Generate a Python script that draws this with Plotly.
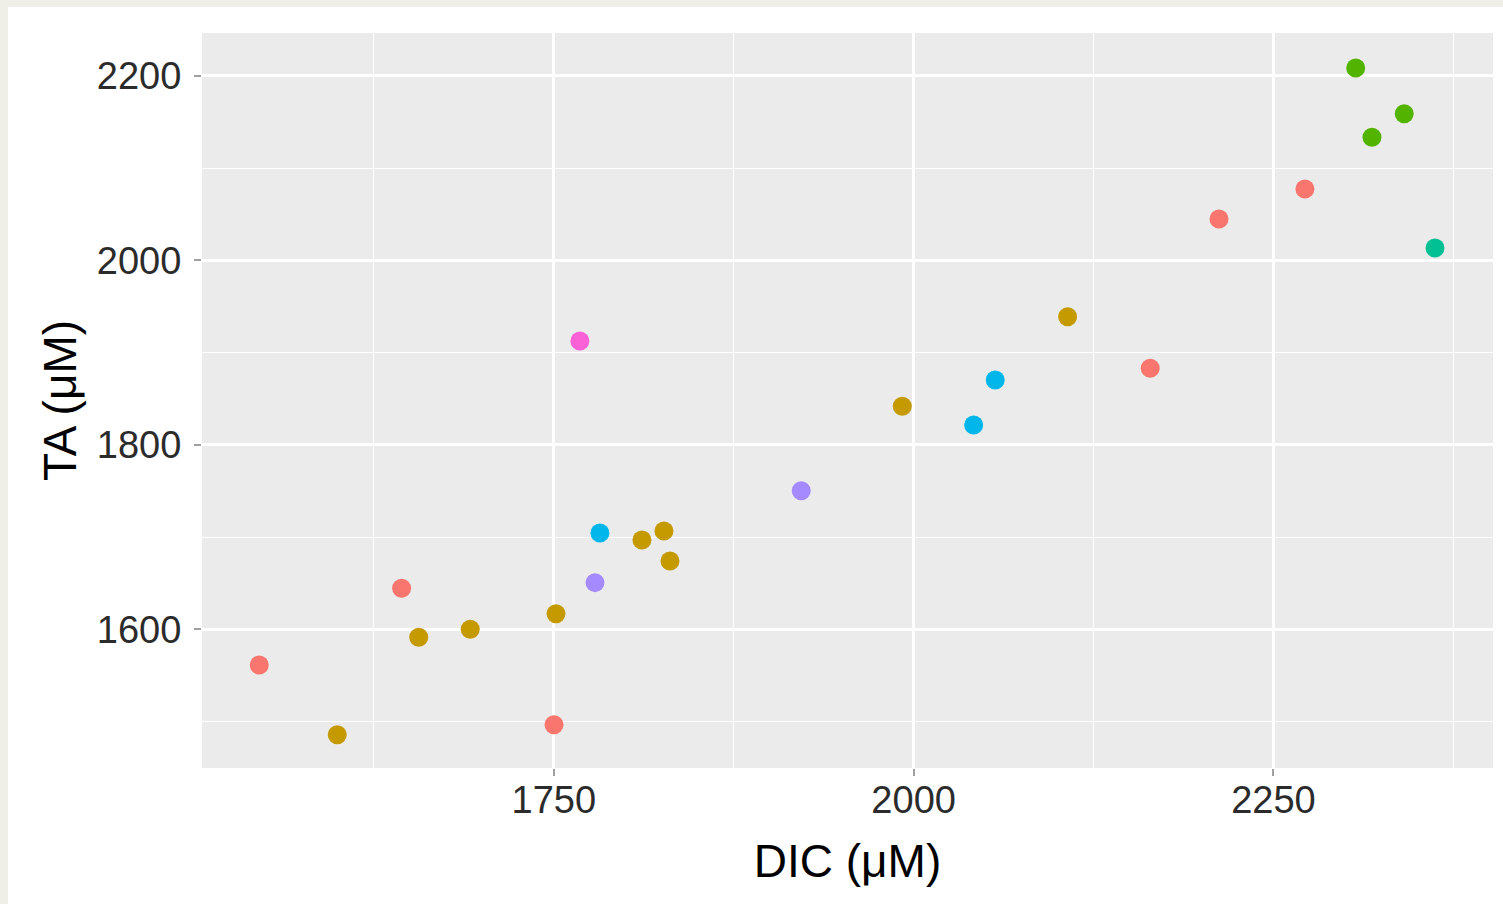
import plotly.graph_objects as go

# Data (DIC vs TA, colored by group)
dic = [1545.3, 1599.5, 1644.2, 1656.1, 1691.9, 1751.5, 1750.1, 1768.1, 1778.6, 1782.0,
       1811.2, 1826.5, 1830.7, 1921.9, 1992.1, 2041.7, 2056.7, 2107.0, 2164.4, 2212.2,
       2271.9, 2307.2, 2318.5, 2340.9, 2362.3]
ta = [1561.3, 1485.7, 1644.5, 1591.3, 1600.0, 1616.9, 1496.6, 1912.6, 1650.6, 1704.4,
      1696.9, 1706.6, 1674.1, 1750.3, 1841.8, 1821.6, 1870.4, 1939.0, 1883.0, 2044.9,
      2077.5, 2208.7, 2133.5, 2159.1, 2013.5]
group = ["A", "B", "A", "B", "B", "B", "A", "G", "F", "E",
         "B", "B", "B", "F", "B", "E", "E", "B", "A", "A",
         "A", "C", "C", "C", "D"]
group_names = ["A", "B", "C", "D", "E", "F", "G"]
group_colors = ["#F8766D", "#C49A00", "#53B400", "#00C094", "#00B6EB", "#A58AFF", "#FB61D7"]

x_ticks = [1750, 2000, 2250]
y_ticks = [1600, 1800, 2000, 2200]
x_range = [1505.5, 2402.6]
y_range = [1449.6, 2246.6]

W, H = 1503, 904
ML, MR, MT, MB = 202, 10, 33, 136
PW, PH = W - ML - MR, H - MT - MB


def fx(px):
    return (px - ML) / PW


def fy(py):
    return (H - MB - py) / PH


fig = go.Figure()
for name, col in zip(group_names, group_colors):
    xs = [d for d, g in zip(dic, group) if g == name]
    ys = [t for t, g in zip(ta, group) if g == name]
    fig.add_trace(go.Scatter(x=xs, y=ys, mode="markers", name=name,
                             marker=dict(color=col, size=19, line=dict(width=0)),
                             showlegend=False))

# white page area on the off-white background
fig.add_shape(type="rect", xref="paper", yref="paper", layer="below",
              x0=fx(8), x1=fx(W + 2), y0=fy(H + 2), y1=fy(7),
              fillcolor="white", line=dict(width=0))
# grey panel
fig.add_shape(type="rect", xref="paper", yref="paper", layer="below",
              x0=0, x1=1, y0=0, y1=1, fillcolor="#EBEBEB", line=dict(width=0))

axis_common = dict(showgrid=True, gridcolor="white", gridwidth=2.8, zeroline=False,
                   ticks="outside", ticklen=7, tickwidth=1.5, tickcolor="#A0A0A0",
                   showline=False,
                   tickfont=dict(family="Liberation Sans", size=38, color="#2b2b2b"))

fig.update_xaxes(range=x_range, tickvals=x_ticks, ticktext=[str(v) for v in x_ticks],
                 minor=dict(tick0=1625, dtick=250, showgrid=True, gridcolor="white",
                            gridwidth=1.4, ticks=""),
                 ticklabelstandoff=-9,
                 title=dict(text="DIC (μM)", font=dict(family="Liberation Sans", size=46, color="black"),
                            standoff=25),
                 **axis_common)
fig.update_yaxes(range=y_range, tickvals=y_ticks, ticktext=[str(v) for v in y_ticks],
                 minor=dict(tick0=1500, dtick=200, showgrid=True, gridcolor="white",
                            gridwidth=1.4, ticks=""),
                 ticklabelstandoff=5,
                 title=dict(text="TA (μM)", font=dict(family="Liberation Sans", size=46, color="black"),
                            standoff=5),
                 **axis_common)

fig.update_layout(width=W, height=H, autosize=False,
                  margin=dict(l=ML, r=MR, t=MT, b=MB),
                  paper_bgcolor="#EFEFE8", plot_bgcolor="#EBEBEB")

fig.write_html("out.html")
